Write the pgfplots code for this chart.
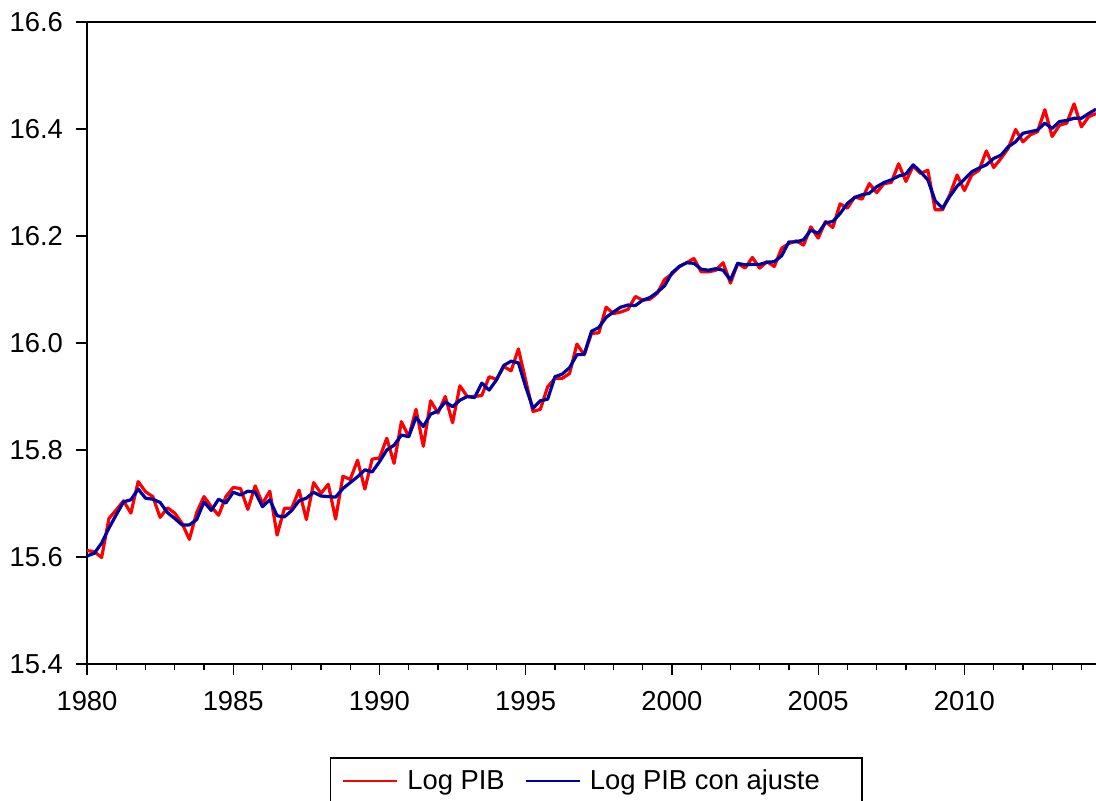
\documentclass[border=0pt]{standalone}
\usepackage{pgfplots}
\pgfplotsset{compat=1.18}
\usepackage{pgfplotstable}
\usepackage{fontspec}
\setmainfont{Liberation Sans}

\definecolor{pibred}{RGB}{255,0,0}
\definecolor{pibblue}{RGB}{0,0,160}

% Quarterly log GDP (1980Q1--2014Q3) and its fitted values
\pgfplotstableread{
t lpib fit
1980.00 15.612 15.602
1980.25 15.610 15.607
1980.50 15.599 15.626
1980.75 15.672 15.654
1981.00 15.688 15.679
1981.25 15.705 15.703
1981.50 15.682 15.707
1981.75 15.741 15.727
1982.00 15.722 15.710
1982.25 15.713 15.708
1982.50 15.674 15.702
1982.75 15.692 15.683
1983.00 15.682 15.672
1983.25 15.663 15.660
1983.50 15.633 15.660
1983.75 15.683 15.670
1984.00 15.713 15.703
1984.25 15.694 15.687
1984.50 15.678 15.708
1984.75 15.713 15.701
1985.00 15.730 15.721
1985.25 15.728 15.716
1985.50 15.689 15.723
1985.75 15.733 15.721
1986.00 15.700 15.694
1986.25 15.723 15.707
1986.50 15.641 15.677
1986.75 15.691 15.675
1987.00 15.691 15.687
1987.25 15.725 15.705
1987.50 15.670 15.710
1987.75 15.739 15.721
1988.00 15.719 15.714
1988.25 15.736 15.713
1988.50 15.671 15.712
1988.75 15.751 15.728
1989.00 15.745 15.739
1989.25 15.781 15.750
1989.50 15.727 15.763
1989.75 15.783 15.759
1990.00 15.785 15.778
1990.25 15.822 15.800
1990.50 15.775 15.809
1990.75 15.853 15.828
1991.00 15.825 15.825
1991.25 15.876 15.861
1991.50 15.807 15.844
1991.75 15.892 15.867
1992.00 15.869 15.873
1992.25 15.900 15.890
1992.50 15.851 15.881
1992.75 15.920 15.893
1993.00 15.900 15.900
1993.25 15.900 15.898
1993.50 15.902 15.925
1993.75 15.937 15.912
1994.00 15.932 15.931
1994.25 15.956 15.958
1994.50 15.948 15.966
1994.75 15.989 15.963
1995.00 15.930 15.918
1995.25 15.872 15.878
1995.50 15.876 15.892
1995.75 15.918 15.895
1996.00 15.934 15.937
1996.25 15.934 15.942
1996.50 15.943 15.954
1996.75 15.998 15.978
1997.00 15.978 15.979
1997.25 16.018 16.022
1997.50 16.019 16.029
1997.75 16.067 16.048
1998.00 16.055 16.058
1998.25 16.058 16.067
1998.50 16.063 16.071
1998.75 16.087 16.070
1999.00 16.080 16.080
1999.25 16.082 16.085
1999.50 16.093 16.095
1999.75 16.119 16.107
2000.00 16.129 16.131
2000.25 16.143 16.143
2000.50 16.150 16.150
2000.75 16.158 16.149
2001.00 16.133 16.138
2001.25 16.133 16.136
2001.50 16.136 16.139
2001.75 16.150 16.136
2002.00 16.112 16.118
2002.25 16.149 16.149
2002.50 16.140 16.146
2002.75 16.160 16.147
2003.00 16.140 16.147
2003.25 16.152 16.151
2003.50 16.143 16.152
2003.75 16.177 16.163
2004.00 16.186 16.189
2004.25 16.191 16.189
2004.50 16.183 16.193
2004.75 16.217 16.211
2005.00 16.196 16.205
2005.25 16.227 16.225
2005.50 16.216 16.227
2005.75 16.260 16.242
2006.00 16.252 16.261
2006.25 16.273 16.272
2006.50 16.269 16.277
2006.75 16.298 16.280
2007.00 16.281 16.292
2007.25 16.298 16.300
2007.50 16.300 16.305
2007.75 16.335 16.312
2008.00 16.302 16.316
2008.25 16.331 16.333
2008.50 16.317 16.320
2008.75 16.323 16.305
2009.00 16.249 16.266
2009.25 16.249 16.252
2009.50 16.277 16.274
2009.75 16.314 16.293
2010.00 16.285 16.306
2010.25 16.314 16.320
2010.50 16.323 16.327
2010.75 16.359 16.333
2011.00 16.328 16.345
2011.25 16.345 16.351
2011.50 16.364 16.367
2011.75 16.399 16.376
2012.00 16.376 16.392
2012.25 16.389 16.395
2012.50 16.395 16.398
2012.75 16.436 16.411
2013.00 16.386 16.401
2013.25 16.407 16.414
2013.50 16.411 16.416
2013.75 16.447 16.420
2014.00 16.404 16.420
2014.25 16.423 16.429
2014.50 16.429 16.437
}\pibdata

\begin{document}
\begin{tikzpicture}
\useasboundingbox (0,0) rectangle (548pt,400pt);
\begin{axis}[
  at={(43.5pt,68pt)}, anchor=south west,
  width=504.5pt, height=321pt, scale only axis,
  xmin=1980, xmax=2014.5, ymin=15.4, ymax=16.6,
  axis x line*=box, axis y line*=left,
  axis line style={-, line width=0.75pt, black},
  xtick={1980,1985,1990,1995,2000,2005,2010},
  minor xtick={1981,1982,1983,1984,1986,1987,1988,1989,1991,1992,1993,1994,1996,1997,1998,1999,2001,2002,2003,2004,2006,2007,2008,2009,2011,2012,2013,2014},
  ytick={15.4,15.6,15.8,16.0,16.2,16.4,16.6},
  tick align=outside, xtick pos=left, ytick pos=left,
  major tick length=5.5pt, minor tick length=3pt,
  tick style={black, line width=0.6pt},
  font=\fontsize{13.7}{16}\selectfont,
  x tick label style={yshift=-4.5pt, /pgf/number format/1000 sep={}, /pgf/number format/assume math mode=true},
  y tick label style={xshift=-3pt, /pgf/number format/.cd, fixed, fixed zerofill, precision=1, assume math mode=true},
  clip=false,
  legend columns=2,
  legend style={at={(0.5045,0)}, anchor=north, yshift=-46.5pt,
    draw=black, line width=0.75pt, inner xsep=6pt, inner ysep=4pt,
    font=\fontsize{13.7}{16}\selectfont,
    /tikz/every odd column/.append style={column sep=2.5pt},
    /tikz/every even column/.append style={column sep=8pt}},
  legend image code/.code={\draw[#1, line width=1pt] (0pt,0pt) -- (27pt,0pt);},
]
\addplot[pibred, line width=1.6pt, line join=round] table[x=t, y=lpib] {\pibdata};
\addlegendentry{Log PIB}
\addplot[pibblue, line width=1.6pt, line join=round] table[x=t, y=fit] {\pibdata};
\addlegendentry{Log PIB con ajuste\rule{13pt}{0pt}}
\end{axis}
\end{tikzpicture}
\end{document}
